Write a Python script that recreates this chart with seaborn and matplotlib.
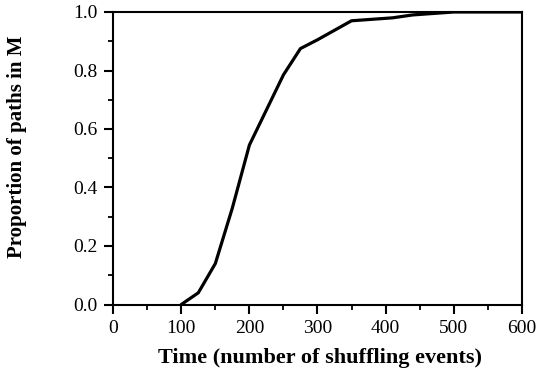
import pandas as pd
import matplotlib
matplotlib.use('Agg')
import matplotlib.pyplot as plt
import seaborn as sns
from matplotlib.ticker import MultipleLocator, FormatStrFormatter

# values
time = [100, 125, 150, 175, 200, 225, 250, 275, 300, 350, 410, 440, 500, 550, 600]
proportion = [0.0, 0.04, 0.14, 0.33, 0.545, 0.665, 0.785, 0.875, 0.905, 0.97, 0.98, 0.99, 1.0, 1.0, 1.0]

df = pd.DataFrame({'time': time, 'proportion': proportion})

sns.set_style('ticks')
plt.rcParams['font.family'] = ['Liberation Serif', 'DejaVu Serif']
plt.rcParams['text.color'] = 'black'
plt.rcParams['axes.labelcolor'] = 'black'

fig = plt.figure(figsize=(5.39, 3.75), dpi=100)
ax = fig.add_axes([0.21, 0.188, 0.758, 0.78])
sns.lineplot(data=df, x='time', y='proportion', color='black', linewidth=2.3, ax=ax)

ax.set_xlim(0, 600)
ax.set_ylim(0, 1.0)
ax.xaxis.set_major_locator(MultipleLocator(100))
ax.xaxis.set_minor_locator(MultipleLocator(50))
ax.yaxis.set_major_locator(MultipleLocator(0.2))
ax.yaxis.set_minor_locator(MultipleLocator(0.1))
ax.yaxis.set_major_formatter(FormatStrFormatter('%.1f'))

for s in ax.spines.values():
    s.set_linewidth(1.5)
    s.set_color('black')
ax.tick_params(which='major', direction='out', length=6.5, width=1.5, pad=5,
               labelsize=14, colors='black')
ax.tick_params(which='minor', direction='out', length=3.6, width=1.3, colors='black')

ax.set_xlabel('Time (number of shuffling events)', fontsize=16, fontweight='bold')
ax.set_ylabel('Proportion of paths in M', fontsize=15, fontweight='bold')
ax.xaxis.set_label_coords(0.505, -0.15)
ax.yaxis.set_label_coords(-0.21, 0.54)

fig.savefig('out.png', dpi=100)
